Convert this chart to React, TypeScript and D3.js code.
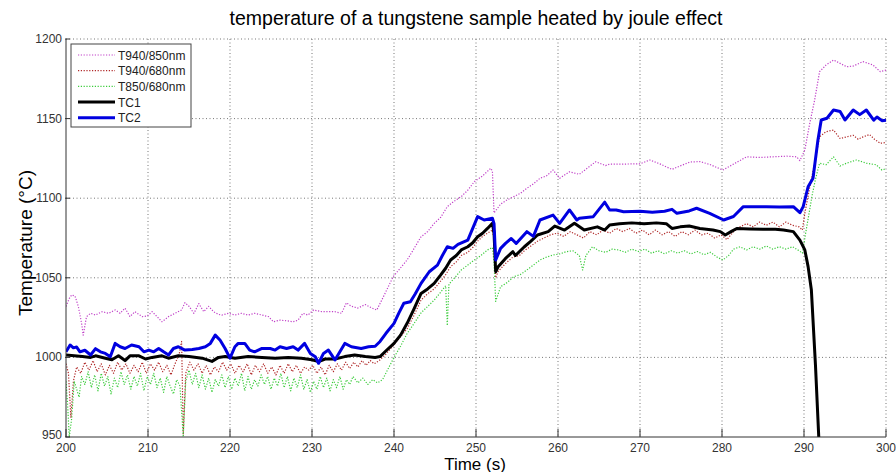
import React from "react";
import * as d3 from "d3";

const TITLE = "temperature of a tungstene sample heated by joule effect";
const X_LABEL = "Time (s)";
const Y_LABEL = "Temperature (°C)";
const xTicks = [200, 210, 220, 230, 240, 250, 260, 270, 280, 290, 300];
const yTicks = [950, 1000, 1050, 1100, 1150, 1200];
const seriesNames = ["T940/850nm", "T940/680nm", "T850/680nm", "TC1", "TC2"];

// [time (s), temperature (°C)]
const t940_850: [number, number][] = [
  [200,1032],[200.4,1037],[200.7,1039.3],[201.1,1038.5],[201.5,1032.1],[201.9,1021.4],[202.1,1014],[202.5,1025.6],[203,1027.7],[203.6,1026.6],[204.4,1028.7],[205.2,1027.7],[206,1029.8],[206.6,1027.7],[207.2,1030.9],[207.8,1025.6],[208.4,1028.7],[209.3,1025.6],[209.9,1026],[210.5,1028.7],[211.1,1025.6],[211.7,1022.4],[212.5,1025.6],[213.3,1027.7],[214.1,1029.8],[214.5,1034.4],[215,1032.1],[215.6,1027.7],[216.2,1033.8],[216.8,1028.7],[217.4,1032.1],[218,1028.7],[218.6,1027],[219,1026.6],[219.8,1027.7],[220.6,1026.6],[221.4,1027.7],[222.2,1026.6],[223,1027.7],[223.9,1026.6],[224.7,1025.6],[225.3,1022.4],[226.1,1023.4],[226.9,1023],[227.7,1022.4],[228.3,1023.4],[228.9,1027.7],[229.5,1026.6],[230.2,1029.8],[231.2,1028.7],[232,1028.7],[232.8,1028.7],[233.6,1027.7],[234.2,1034.3],[234.8,1032.1],[235.6,1031],[236.5,1033.2],[237.3,1031],[237.9,1029.8],[238.7,1038],[239.9,1050.7],[241.6,1061.2],[242.4,1068],[243.3,1075.8],[244.1,1079],[244.9,1084.2],[245.7,1088],[246.5,1094.7],[247.3,1098],[248.2,1101],[249,1105],[249.8,1110.4],[250.8,1114],[251.8,1118.8],[252,1117],[252.2,1090.7],[253,1096.3],[253.8,1099],[254.6,1101],[255.4,1103],[256.2,1106.2],[257,1109],[257.8,1112.5],[258.6,1114],[259.4,1117.7],[260.2,1112.5],[261.4,1116.6],[262.6,1115],[263.6,1119],[264.6,1122.9],[265.8,1120.5],[266.3,1121.4],[267.5,1121.4],[270,1121.6],[271.2,1124],[272.4,1121.6],[273.9,1118.1],[274.9,1120.3],[276.1,1122.7],[277.3,1123],[278.5,1121.2],[280.1,1117.7],[281.4,1121.4],[283,1126],[284.6,1125.6],[286.2,1126],[287.9,1126.4],[289.1,1126],[289.5,1123.6],[290.1,1130.3],[290.7,1147],[291.3,1161.7],[291.9,1179.5],[292.7,1183.7],[293.6,1186.8],[294.4,1184.7],[295.2,1182.6],[296,1183],[297.2,1185.8],[298.4,1183.7],[299.3,1179.5],[300,1180.5]
];

const t940_680: [number, number][] = [
  [200,996],[200.3,990],[200.6,962],[200.9,985],[201.3,994],[201.8,990],[202.3,997],[202.8,992],[203.3,998],[203.8,991],[204.3,996],[204.8,989],[205.3,995],[205.8,990],[206.3,997],[206.8,992],[207.3,996],[207.8,990],[208.3,995],[208.8,991],[209.3,997],[209.8,990],[210.3,996],[210.8,992],[211.3,997],[211.8,991],[212.3,995],[212.8,989],[213.3,996],[213.8,1002],[214.1,1010],[214.3,952],[214.6,990],[215.1,997],[215.6,992],[216.1,996],[216.6,990],[217.1,995],[217.6,989],[218.1,994],[218.6,991],[219.1,997],[219.6,992],[220.1,996],[220.6,990],[221.1,995],[221.6,991],[222.1,996],[222.6,989],[223.1,995],[223.6,991],[224.1,996],[224.6,990],[225.1,994],[225.6,989],[226.1,995],[226.6,990],[227.1,996],[227.6,991],[228.1,995],[228.6,990],[229.1,994],[229.6,992],[230.1,995],[230.6,990],[231.1,994],[231.6,989],[232.1,995],[232.6,991],[233.1,996],[233.6,992],[234.1,997],[234.6,993],[235.1,997],[235.6,994],[236.1,998],[236.6,995],[237.1,998],[237.6,996],[238.2,998],[239,1002],[240,1008],[240.8,1013],[241.6,1018],[242.4,1026],[243.3,1036],[244.1,1040],[244.9,1043],[245.7,1048],[246.3,1052],[246.9,1057],[247.6,1060],[248.2,1064],[249,1066],[249.6,1069],[250.2,1073],[250.8,1076],[251.4,1078],[252,1080],[252.2,1074],[252.4,1050],[252.7,1054],[253.6,1059],[254.5,1063],[255.3,1064],[255.9,1067],[256.7,1070],[257.5,1073],[258.3,1075],[259.1,1077],[259.9,1078],[260.7,1076],[261.5,1079],[262.3,1077],[263.1,1075],[263.9,1079],[264.7,1077],[265.5,1080],[266.3,1078],[267.1,1081],[267.9,1079],[268.7,1081],[269.5,1078],[270.3,1080],[271.1,1077],[271.9,1080],[272.7,1077],[273.5,1079],[274.3,1076],[275.1,1079],[275.9,1077],[276.7,1080],[277.5,1077],[278.3,1078],[279.1,1075],[279.9,1077],[280.6,1074],[281.4,1079],[282.2,1082],[283,1084],[283.8,1082],[284.6,1085],[285.4,1083],[286.2,1085],[287,1082],[287.8,1085],[288.6,1083],[289.4,1082],[289.8,1080],[290.1,1090.5],[290.7,1107],[291.3,1122],[291.9,1138.6],[292.7,1141.8],[293.6,1142.8],[294.4,1137.5],[295.2,1138.5],[296,1139.5],[296.6,1137],[297.2,1138.5],[298,1140],[298.6,1137],[299.3,1134.5],[300,1135]
];

const t850_680: [number, number][] = [
  [200,985],[200.2,970],[200.4,950],[200.7,962],[201,985],[201.3,980],[201.6,975],[201.9,988],[202.3,983],[202.7,991],[203.1,981],[203.5,989],[203.9,979],[204.3,990],[204.7,982],[205.1,988],[205.5,977],[205.9,987],[206.3,981],[206.7,991],[207.1,983],[207.5,989],[207.9,980],[208.3,988],[208.7,982],[209.1,990],[209.5,979],[209.9,988],[210.3,983],[210.7,990],[211.1,981],[211.5,987],[211.9,978],[212.3,988],[212.7,982],[213.1,977],[213.5,986],[213.9,982],[214.3,950],[214.6,985],[215,992],[215.4,983],[215.8,990],[216.2,981],[216.6,989],[217,980],[217.4,987],[217.8,978],[218.2,986],[218.6,982],[219,989],[219.4,981],[219.8,988],[220.2,980],[220.6,987],[221,982],[221.4,990],[221.8,979],[222.2,988],[222.6,980],[223,986],[223.4,982],[223.8,989],[224.2,983],[224.6,988],[225,980],[225.4,987],[225.8,982],[226.2,990],[226.6,981],[227,988],[227.4,979],[227.8,987],[228.2,981],[228.6,989],[229,980],[229.4,986],[229.8,978],[230.2,985],[230.6,980],[231,988],[231.4,981],[231.8,987],[232.2,979],[232.6,986],[233,981],[233.4,988],[233.8,980],[234.2,986],[234.6,983],[235,988],[235.6,984],[236.2,987],[236.8,983],[237.4,986],[238,984],[238.6,986],[239.2,992],[240,1000],[240.8,1007],[241.6,1015],[242.4,1021],[243.3,1028],[244.1,1032],[244.9,1036],[245.7,1041],[246.3,1045],[246.5,1020],[246.7,1046],[247.4,1050],[248.2,1054.9],[249,1058],[249.8,1061.2],[250.6,1064],[251.4,1067.5],[252,1069],[252.2,1060],[252.4,1035.2],[253,1044.4],[253.8,1047],[254.6,1050.7],[255.4,1052],[256.2,1054.9],[257,1058],[257.8,1061.2],[258.6,1063],[259.4,1064.3],[260.2,1065],[261,1066.4],[261.8,1067],[262.6,1064],[263,1054.9],[263.4,1064],[264.2,1069.5],[265,1067],[265.8,1066],[266.6,1068],[267.4,1067.5],[268.2,1066],[269,1068],[269.8,1066.5],[270.6,1068],[271.4,1065.5],[272.2,1067],[273,1065],[273.8,1067],[274.6,1065.5],[275.4,1067],[276.2,1065],[277,1066.5],[277.8,1064.5],[278.6,1066],[279.4,1063],[280.1,1061.2],[280.8,1064],[281.4,1068],[282.2,1069.5],[283,1067.5],[283.8,1069.5],[284.6,1068],[285.4,1070],[286.2,1068],[287,1069.5],[287.8,1068],[288.6,1069.5],[289.4,1067],[289.8,1065.5],[290.2,1078],[290.6,1090],[291,1102],[291.4,1112],[291.9,1122],[292.7,1121],[293.6,1126],[294.4,1120.2],[295.2,1122],[296.4,1124],[297.6,1122],[298.8,1121],[299.5,1117.7],[300,1118.5]
];

const tc1: [number, number][] = [
  [200,1001.5],[201,1001],[202,1000.5],[203,1000],[203.6,1001],[204.8,999.5],[205.6,998.5],[206.4,1001],[207.2,998],[207.8,1001],[208.9,1001],[209.7,999],[210.5,1000],[211.7,1001],[212.5,999.5],[213.7,1001],[215,1000.5],[216.6,999.5],[217.8,997.5],[218.6,1000],[219.4,1000.5],[220.6,999.5],[222.2,1000.5],[223.9,1000],[225.5,999.5],[227.1,1000],[228.7,999.5],[230,998.5],[230.8,997.4],[231.6,999],[232.8,999],[234,1000.5],[235.2,1001.5],[236.5,1000.5],[237.7,1000],[238.3,1000.5],[239,1004],[240,1008.8],[240.8,1014],[241.6,1021.4],[242.4,1030],[243.3,1040.2],[244.1,1043],[244.9,1046.5],[245.7,1051.8],[246.3,1056],[246.9,1061.2],[247.6,1064],[248.2,1067.5],[249,1069.5],[249.6,1072],[250.2,1075.8],[250.8,1078],[251.4,1081],[252,1084.2],[252.2,1078],[252.4,1053.8],[252.7,1057],[253.6,1062.2],[254.5,1066.4],[254.8,1064],[255.9,1069.5],[256.7,1073],[257.5,1076.9],[258.8,1079],[259.6,1082.5],[260.8,1080],[262,1084.2],[263.2,1080],[264.8,1082],[265.7,1080],[266.3,1083.2],[267.5,1084],[269,1084.5],[270.5,1084],[272,1084.5],[273.2,1084],[273.9,1081],[274.9,1082],[276,1082.5],[277.3,1081],[278.9,1080],[279.8,1079],[280.4,1076.9],[281.1,1079],[281.8,1081],[283.4,1080.7],[285,1080.5],[286.5,1080.5],[287.5,1080],[288.7,1079],[289.5,1073.7],[290.1,1067.5],[290.5,1057],[290.9,1042.3],[291.4,995],[291.8,950],[292.2,900]
];

const tc2: [number, number][] = [
  [200,1003.5],[200.5,1007.8],[200.9,1006],[201.3,1006.5],[201.7,1003.5],[202.3,1004.5],[203,1001.5],[203.6,1005.5],[204.2,1003.5],[204.8,1002.5],[205.4,1000.4],[206,1008.8],[206.6,1006.7],[207.2,1005.6],[208,1007.8],[208.9,1006.7],[209.5,1003.5],[210.1,1004.6],[210.7,1003.5],[211.3,1005.6],[211.9,1003.5],[212.5,1001.5],[213.1,1005.6],[213.7,1006.7],[214.5,1004.6],[215.4,1005],[216.2,1005.6],[217,1006.7],[217.6,1008.8],[218.2,1014],[218.8,1010.8],[219.4,1005.6],[220,999.5],[220.6,1006.7],[221,1008.8],[221.8,1008.8],[222.4,1004.6],[223,1003.5],[223.9,1005.6],[224.9,1005.6],[225.5,1004.6],[226.1,1006.7],[226.9,1005.6],[227.7,1006.7],[228.3,1004.6],[229.1,1008.8],[229.8,1002.5],[230.4,1000.4],[230.8,996.3],[231.4,1002.5],[232,1004.6],[232.8,998.4],[233.4,1003.5],[234,1008.8],[234.8,1006.7],[236,1005.6],[236.9,1006.7],[237.7,1007],[238.3,1010],[239,1015],[240,1021.4],[240.6,1028],[241.2,1034],[242,1035],[242.6,1040],[243.3,1046.5],[244.3,1053.8],[245.3,1058],[245.9,1064],[246.5,1069.5],[247.2,1068.5],[247.8,1071],[249,1073.7],[249.6,1081],[250.2,1088.4],[251,1086.3],[252,1087.4],[252.2,1084],[252.4,1061.2],[253,1068.5],[253.6,1071.6],[254.3,1074.7],[254.9,1071.6],[256.2,1079],[257,1076],[257.8,1086.3],[259.4,1089.4],[260.2,1084.2],[261.4,1092.6],[262.3,1086.3],[262.6,1087.4],[264.3,1088.4],[265.7,1097.5],[266.3,1092.6],[267.1,1092.6],[268,1091.5],[270,1091.8],[271.5,1091.2],[273,1091.8],[273.9,1093],[274.5,1090.5],[276,1092],[276.9,1093.7],[278.5,1090.5],[280.2,1086.3],[281.4,1088.5],[282.6,1094.7],[285.4,1094.7],[287,1094.5],[288.7,1094.7],[289.5,1090.9],[289.9,1094.7],[290.5,1107.2],[291.1,1112.5],[291.7,1136.6],[292.1,1149.1],[292.8,1150.2],[293.6,1155.4],[294.4,1154.5],[295,1149.1],[296,1155.4],[296.8,1152.5],[297.6,1155.4],[298.5,1149],[298.9,1151],[299.5,1148.7],[300,1149]
];

const seriesData = [t940_850, t940_680, t850_680, tc1, tc2];
const seriesColors = ["#c040c8", "#b02828", "#3ccc3c", "#000000", "#0000e0"];
const seriesWidths = [1.2, 1.2, 1.2, 3, 3];
const seriesDash = ["1.2,1.6", "1.2,1.6", "1.2,1.6", null, null];

const W = 896, H = 472;
const M = { left: 66, right: 886, top: 39, bottom: 437 };
const FONT = "'Liberation Sans', Arial, Helvetica, sans-serif";

export default function App() {
  const x = d3.scaleLinear().domain([200, 300]).range([M.left, M.right]);
  const y = d3.scaleLinear().domain([950, 1200]).range([M.bottom, M.top]);
  const line = d3.line<[number, number]>().x(d => x(d[0])).y(d => y(d[1]));

  const legendX = 71, legendY = 44, legendW = 120, legendH = 83;

  return (
    <div style={{ position: "absolute", left: 0, top: 0, width: W, height: H, background: "#fff" }}>
      <svg width={W} height={H} style={{ display: "block", fontFamily: FONT }}>
        <rect x={0} y={0} width={W} height={H} fill="#fff" />
        <defs>
          <clipPath id="plotclip">
            <rect x={M.left} y={M.top - 2} width={M.right - M.left + 2} height={M.bottom - M.top + 2} />
          </clipPath>
        </defs>
        {/* grid */}
        {xTicks.slice(1).map(t => (
          <line key={"gx" + t} x1={x(t)} x2={x(t)} y1={M.top} y2={M.bottom} stroke="#777" strokeWidth={1} strokeDasharray="1,2.5" />
        ))}
        {yTicks.slice(1).map(t => (
          <line key={"gy" + t} x1={M.left} x2={M.right} y1={y(t)} y2={y(t)} stroke="#777" strokeWidth={1} strokeDasharray="1,2.5" />
        ))}
        {/* series */}
        <g clipPath="url(#plotclip)">
          {seriesData.map((s, i) => (
            <path key={"s" + i} d={line(s) || ""} fill="none" stroke={seriesColors[i]}
              strokeWidth={seriesWidths[i]} strokeDasharray={seriesDash[i] || undefined}
              strokeLinejoin="round" />
          ))}
        </g>
        {/* axes */}
        <line x1={M.left} x2={M.left} y1={M.top} y2={M.bottom} stroke="#333" strokeWidth={1} />
        <line x1={M.left} x2={M.right} y1={M.bottom} y2={M.bottom} stroke="#333" strokeWidth={1} />
        {xTicks.map(t => (
          <g key={"xt" + t}>
            <line x1={x(t)} x2={x(t)} y1={M.bottom} y2={M.bottom - 8} stroke="#333" strokeWidth={1} />
            <text x={x(t)} y={451.5} textAnchor="middle" fontSize={12} fill="#333">{t}</text>
          </g>
        ))}
        {yTicks.map(t => (
          <g key={"yt" + t}>
            <line x1={M.left - 1} x2={M.left + 4} y1={y(t)} y2={y(t)} stroke="#333" strokeWidth={1} />
            <text x={62} y={y(t) + (t === 950 ? 2 : 4)} textAnchor="end" fontSize={12} fill="#333">{t}</text>
          </g>
        ))}
        {/* labels */}
        <text x={476} y={25} textAnchor="middle" fontSize={19.5} fill="#000">{TITLE}</text>
        <text x={475} y={469.5} textAnchor="middle" fontSize={17} fill="#000">{X_LABEL}</text>
        <text transform={`translate(32,${243}) rotate(-90)`} textAnchor="middle" fontSize={19} fill="#000">{Y_LABEL}</text>
        {/* legend */}
        <rect x={legendX} y={legendY} width={legendW} height={legendH} fill="#fff" stroke="#444" strokeWidth={1} />
        {seriesNames.map((n, i) => {
          const ly = 55 + i * 15.7;
          return (
            <g key={"lg" + i}>
              <line x1={78} x2={115} y1={ly} y2={ly} stroke={seriesColors[i]} strokeWidth={seriesWidths[i]}
                strokeDasharray={seriesDash[i] || undefined} />
              <text x={118} y={ly + 4.5} fontSize={12} fill="#222">{n}</text>
            </g>
          );
        })}
      </svg>
    </div>
  );
}
